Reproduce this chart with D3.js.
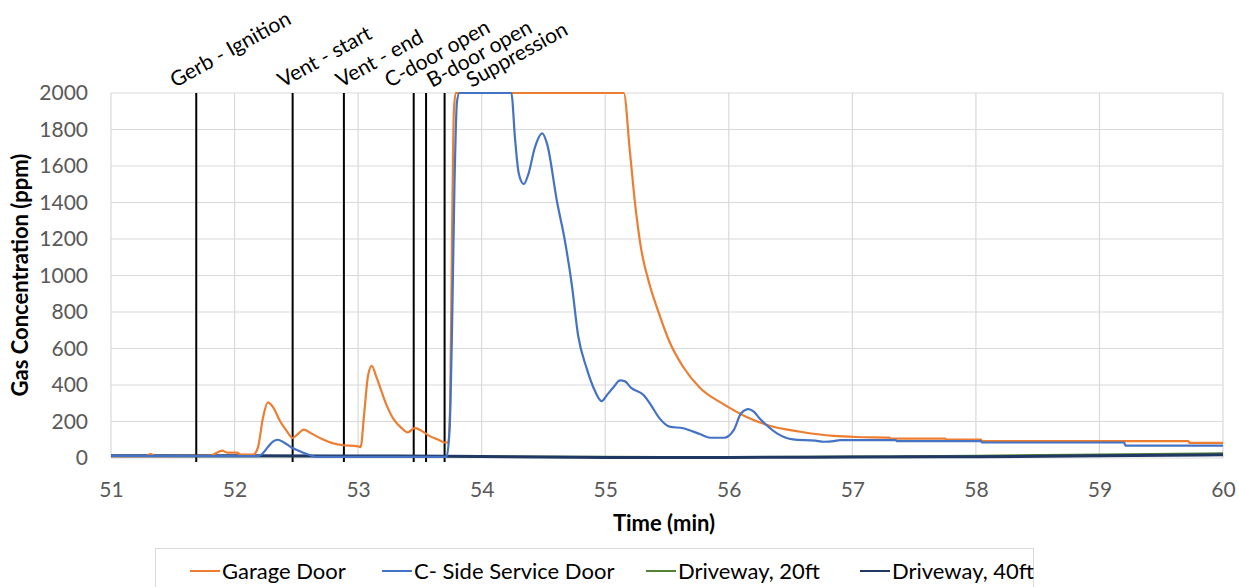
<!DOCTYPE html>
<html><head><meta charset="utf-8">
<script src="https://cdn.jsdelivr.net/npm/d3@7"></script>
<style>
body{margin:0;background:#fff;}
text{font-family:Lato,"Open Sans",sans-serif;}
</style></head><body>
<svg id="c" width="1239" height="587"></svg>
<script>
// ---- data ----
const seriesNames = ["Garage Door","C- Side Service Door","Driveway, 20ft","Driveway, 40ft"];
const garageT = [51.00,51.28,51.32,51.36,51.80,51.86,51.90,51.94,52.02,52.05,52.15,52.19,52.23,52.27,52.31,52.37,52.42,52.47,52.51,52.56,52.62,52.72,52.80,52.88,52.99,53.02,53.05,53.08,53.11,53.15,53.23,53.29,53.35,53.40,53.46,53.51,53.58,53.65,53.70,53.73,53.745,53.76,53.775,53.79,55.15,55.20,55.24,55.29,55.36,55.43,55.52,55.63,55.77,55.96,56.14,56.31,56.58,56.85,57.03,57.30,57.31,57.75,57.76,58.04,58.05,59.72,59.73,60.00];
const garageV = [10,10,22,10,12,30,40,30,30,18,18,60,220,305,280,200,150,110,130,155,135,100,80,70,65,60,250,450,505,440,290,210,165,140,165,150,120,100,85,85,300,1200,1900,2000,2000,1678,1404,1149,948,802,637,500,382,294,226,181,144,121,115,112,106,106,101,101,93,93,83,83];
const serviceT = [51.00,52.18,52.22,52.27,52.31,52.35,52.40,52.46,52.52,52.61,52.66,53.715,53.74,53.76,53.78,53.80,53.82,54.24,54.27,54.30,54.34,54.38,54.43,54.49,54.53,54.61,54.67,54.73,54.78,54.85,54.92,54.97,55.02,55.07,55.12,55.16,55.21,55.31,55.37,55.44,55.52,55.63,55.77,55.85,55.96,56.04,56.10,56.16,56.20,56.25,56.39,56.52,56.70,56.77,56.85,56.90,57.35,57.36,58.04,58.05,59.20,59.21,60.00];
const serviceV = [12,10,20,60,90,100,85,58,40,16,6,6,150,700,1500,1950,2000,2000,1750,1560,1501,1560,1700,1779,1720,1404,1204,948,674,491,363,312,350,391,425,420,384,345,290,217,172,163,130,111,111,153,245,268,255,217,135,102,95,89,92,98,98,92,92,85,85,68,68];
const drive20T = [51,52,53,53.7,54,55,56,57,58,59,60];
const drive20V = [10,10,10,10,8,6,5,7,12,18,25];
const drive40T = [51,52,53,53.7,54,55,56,57,58,59,60];
const drive40V = [12,12,11,10,8,3,3,5,7,12,18];
const eventNames = ["Gerb - Ignition","Vent - start","Vent - end","C-door open","B-door open","Suppression"];
const eventTimes = [51.69,52.47,52.885,53.45,53.55,53.70];
const xTicks = [51,52,53,54,55,56,57,58,59,60];
const yTicks = [0,200,400,600,800,1000,1200,1400,1600,1800,2000];

// ---- layout ----
const colors = ["#ED7D31","#4472C4","#548235","#1F3864"];
const widths = [2.2,2.2,2.2,3];
const labelDx = [-21,-10,-3,-24,6,27];
const M = {l:111, t:93, w:1112, h:365};

const svg = d3.select("#c");
const x = d3.scaleLinear().domain([51,60]).range([M.l, M.l+M.w]);
const y = d3.scaleLinear().domain([0,2000]).range([M.t+M.h, M.t]);

// gridlines
svg.append("g").selectAll("line").data(yTicks).join("line")
  .attr("x1",M.l).attr("x2",M.l+M.w).attr("y1",d=>y(d)).attr("y2",d=>y(d))
  .attr("stroke","#d9d9d9").attr("stroke-width",1.2);
svg.append("g").selectAll("line").data(xTicks).join("line")
  .attr("y1",M.t).attr("y2",M.t+M.h).attr("x1",d=>x(d)).attr("x2",d=>x(d))
  .attr("stroke","#d9d9d9").attr("stroke-width",1.2);

// axes (labels only)
const xa = svg.append("g").attr("transform",`translate(0,${M.t+M.h})`)
  .call(d3.axisBottom(x).tickValues(xTicks).tickSize(0).tickPadding(24).tickFormat(d3.format("d")));
const ya = svg.append("g").attr("transform",`translate(${M.l},0)`)
  .call(d3.axisLeft(y).tickValues(yTicks).tickSize(0).tickPadding(23).tickFormat(d3.format("d")));
[xa,ya].forEach(a=>{a.select(".domain").remove();
  a.selectAll("text").attr("fill","#595959").style("font-size","21px").style("font-family","Lato");});

// event lines
svg.append("g").selectAll("line").data(eventTimes).join("line")
  .attr("x1",d=>x(d)).attr("x2",d=>x(d)).attr("y1",y(2000)).attr("y2",y(0)+4)
  .attr("stroke","#000").attr("stroke-width",2);
svg.append("g").selectAll("text").data(eventNames).join("text")
  .attr("transform",(d,i)=>`translate(${x(eventTimes[i])+labelDx[i]},${M.t-5}) rotate(-29)`)
  .attr("font-size","21px").attr("fill","#000").text(d=>d);

// series
const line = d3.line().x(d=>x(d[0])).y(d=>y(d[1])).curve(d3.curveMonotoneX);
const zip = (t,v)=>t.map((d,i)=>[d,v[i]]);
const data = [zip(drive20T,drive20V), zip(drive40T,drive40V), zip(garageT,garageV), zip(serviceT,serviceV)];
const order = [2,3,0,1];
svg.append("g").selectAll("path").data(data).join("path")
  .attr("d",line).attr("fill","none")
  .attr("stroke",(d,i)=>colors[order[i]]).attr("stroke-width",(d,i)=>widths[order[i]])
  .attr("stroke-linejoin","round");

// axis titles
svg.append("text").attr("x",664).attr("y",531).attr("text-anchor","middle")
  .attr("font-size","22px").attr("font-weight","bold").text("Time (min)");
svg.append("text").attr("transform","translate(28,275) rotate(-90)").attr("text-anchor","middle")
  .attr("font-size","22px").attr("font-weight","bold").text("Gas Concentration (ppm)");

// legend
svg.append("rect").attr("x",155.5).attr("y",548.5).attr("width",878).attr("height",60)
  .attr("fill","#fff").attr("stroke","#d9d9d9");
const legX = [190,382,646,860];
const lg = svg.append("g").selectAll("g").data(seriesNames).join("g")
  .attr("transform",(d,i)=>`translate(${legX[i]},571)`);
lg.append("line").attr("x1",0).attr("x2",30).attr("y1",0).attr("y2",0)
  .attr("stroke",(d,i)=>colors[i]).attr("stroke-width",2);
lg.append("text").attr("x",32).attr("y",8).attr("font-size","22px").attr("fill","#000").text(d=>d);
</script></body></html>
